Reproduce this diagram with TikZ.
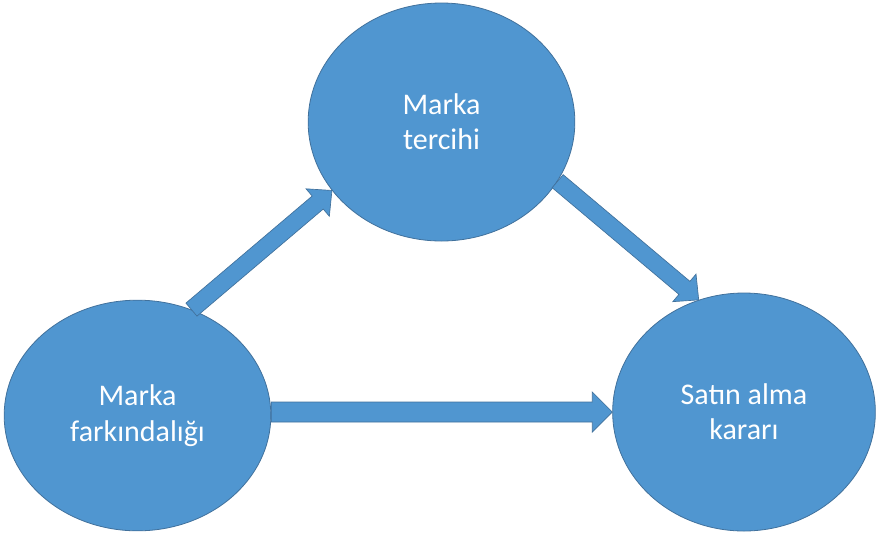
\documentclass[tikz,border=0pt]{standalone}
\definecolor{brandFill}{RGB}{80,150,208}
\definecolor{brandLine}{RGB}{65,113,156}
\usepackage{fontspec}
\setmainfont{Carlito}
\usetikzlibrary{calc,shapes.geometric}

\begin{document}
\begin{tikzpicture}[
    x=0.75pt, y=-0.75pt,
    bubble/.style={ellipse, draw=brandLine, line width=0.6pt, fill=brandFill,
      text=white, align=center, font=\fontsize{22.5}{26.5}\selectfont},
    blockarrow/.style n args={3}{draw=brandLine, line width=0.5pt, fill=brandFill,
      to path={($(\tikztostart)!#1!90:(\tikztotarget)$)
        -- ($($(\tikztotarget)!#3!(\tikztostart)$)!#1!90:(\tikztotarget)$)
        -- ($($(\tikztotarget)!#3!(\tikztostart)$)!#2!90:(\tikztotarget)$)
        -- (\tikztotarget)
        -- ($($(\tikztotarget)!#3!(\tikztostart)$)!#2!-90:(\tikztotarget)$)
        -- ($($(\tikztotarget)!#3!(\tikztostart)$)!#1!-90:(\tikztotarget)$)
        -- ($(\tikztostart)!#1!-90:(\tikztotarget)$) -- cycle}}
  ]
  \useasboundingbox (0,0) rectangle (877,533);
  % the three stages
  \node[bubble, minimum width=200pt, minimum height=178.5pt] (tercih) at (441.5,122) {Marka\\tercihi};
  \node[bubble, minimum width=200pt, minimum height=173pt] (farkindalik) at (137.5,415.5) {Marka\\farkındalığı};
  \node[bubble, minimum width=197pt, minimum height=178.5pt] (karar) at (744,412) {Satın alma\\kararı};
  % block arrows
  \path[blockarrow={6.4pt}{13.5pt}{14pt}] (farkindalik.63.5) to (tercih.212);
  \path[blockarrow={6.4pt}{13.5pt}{14pt}] (tercih.333.7) to (karar.112.7);
  \path[blockarrow={7.5pt}{15pt}{15pt}] (farkindalik.east |- karar.west) to (karar.west);
\end{tikzpicture}
\end{document}
